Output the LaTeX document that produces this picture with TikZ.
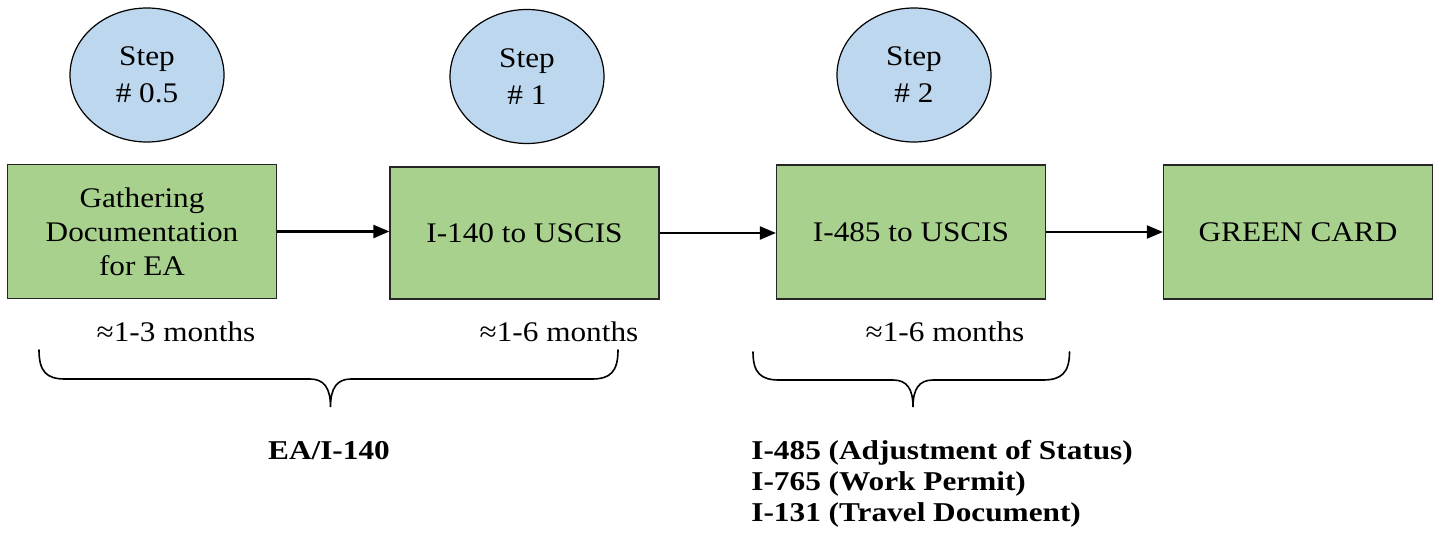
\documentclass[tikz,border=0pt]{standalone}
\usepackage{fontspec}
\setmainfont{Liberation Serif}[FakeStretch=1.1]
\newfontfamily\labfont{Liberation Serif}[FakeStretch=1.15]
\usetikzlibrary{shapes.geometric,arrows.meta}
\definecolor{stepblue}{HTML}{BDD7EE}
\definecolor{boxgreen}{HTML}{A9D18E}
\begin{document}
\begin{tikzpicture}[x=0.5pt,y=-0.5pt,
  stepell/.style={ellipse, draw=black, line width=0.6pt, fill=stepblue, minimum width=77pt, minimum height=67pt, inner sep=0pt, align=center, font=\fontsize{14.2}{18.5}\selectfont},
  procbox/.style={rectangle, draw=black!85, line width=0.6pt, fill=boxgreen, minimum width=134.5pt, minimum height=67pt, inner sep=0pt, align=center, font=\fontsize{14.2}{17}\selectfont},
  arr/.style={line width=1.1pt, -{Triangle[length=8pt,width=6.5pt]}},
  bracepath/.style={line width=0.8pt, line cap=round},
  dur/.style={font=\fontsize{14.2}{16}\selectfont, inner sep=0pt},
  lab/.style={font=\labfont\bfseries\fontsize{13.6}{15.5}\selectfont, align=left, inner sep=0pt}]
\useasboundingbox (0,0) rectangle (1434,534);

% step ellipses
\node[stepell] (s1) at (147,75) {Step\\\# 0.5};
\node[stepell] (s2) at (527,76.5) {Step\\\# 1};
\node[stepell] (s3) at (914,75) {Step\\\# 2};

% process boxes
\node[procbox] (b1) at (142,231.5) {Gathering\\Documentation\\for EA};
\node[procbox, minimum height=66pt] (b2) at (524.5,233) {I-140 to USCIS};
\node[procbox] (b3) at (911,232) {I-485 to USCIS};
\node[procbox] (b4) at (1298,232) {GREEN CARD};

% arrows
\draw[arr] (b1.east) -- (b1.east -| b2.west);
\draw[arr] (b2.east) -- (b2.east -| b3.west);
\draw[arr] (b3.east) -- (b3.east -| b4.west);

% durations
\node[dur] (d1) at (176,331.5) {≈1-3 months};
\node[dur] (d2) at (559,331.5) {≈1-6 months};
\node[dur] (d3) at (945,331.5) {≈1-6 months};

% braces
\coordinate (p1l) at (39,350);
\coordinate (p1r) at (618,350);
\coordinate (p1t) at (330.5,407);
\draw[bracepath] (p1l) .. controls (39,372) and (47,379) .. (65,379) -- (310,379)
  .. controls (324,379) and (330.5,388) .. (p1t)
  .. controls (330.5,388) and (337,379) .. (351,379) -- (592,379)
  .. controls (610,379) and (618,372) .. (p1r);

\coordinate (p2l) at (753,352);
\coordinate (p2r) at (1069.5,352);
\coordinate (p2t) at (913,407);
\draw[bracepath] (p2l) .. controls (753,373) and (761,380) .. (779,380) -- (893,380)
  .. controls (907,380) and (913,389) .. (p2t)
  .. controls (913,389) and (919,380) .. (933,380) -- (1043,380)
  .. controls (1061,380) and (1069.5,373) .. (p2r);

% labels
\node[lab] (l1) at (329,451) {EA/I-140};
\node[lab, anchor=west] (l2) at (751,484) {I-485 (Adjustment of Status)\\I-765 (Work Permit)\\I-131 (Travel Document)};
\end{tikzpicture}
\end{document}
